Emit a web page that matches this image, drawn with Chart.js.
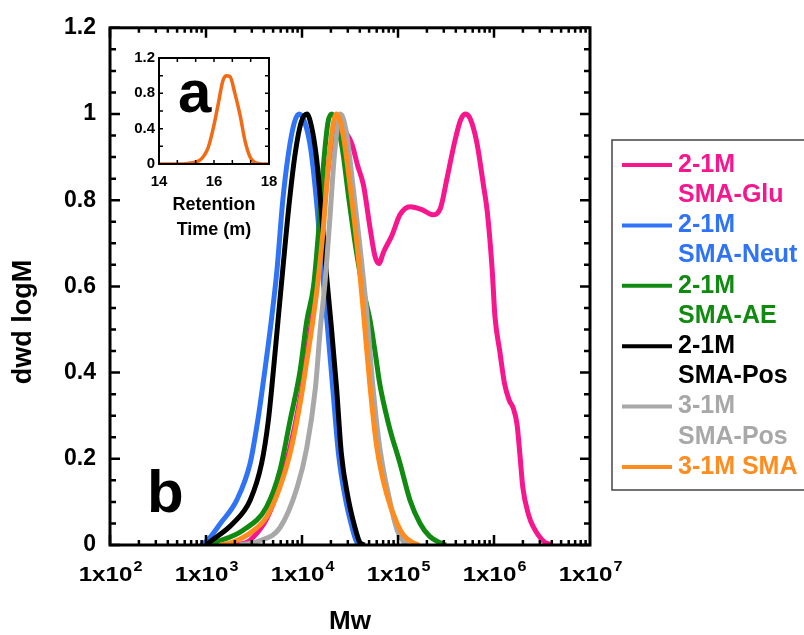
<!DOCTYPE html>
<html>
<head>
<meta charset="utf-8">
<script src="https://cdn.jsdelivr.net/npm/chart.js@4.4.1/dist/chart.umd.min.js"></script>
<style>
  html, body { margin: 0; padding: 0; background: #fff; }
  #wrap { position: relative; width: 804px; height: 635px; }
  #main { position: absolute; left: 0; top: 0; }
  #inset { position: absolute; left: 115px; top: 45px; }
</style>
</head>
<body>
<div id="wrap">
  <canvas id="main" width="804" height="635"></canvas>
  <canvas id="inset" width="175" height="205"></canvas>
</div>
<script>
// --- data (x in log10 Mw) ---
const gluLogM = [3.2, 3.41, 3.5, 3.63, 3.77, 3.875, 3.98, 4.05, 4.1, 4.14, 4.2, 4.26, 4.32, 4.38, 4.45, 4.52, 4.58, 4.64, 4.71, 4.76, 4.8, 4.85, 4.94, 5.02, 5.125, 5.26, 5.36, 5.44, 5.51, 5.59, 5.65, 5.7, 5.75, 5.82, 5.89, 5.93, 5.98, 6.01, 6.06, 6.11, 6.16, 6.2, 6.24, 6.27, 6.3, 6.36, 6.41, 6.51, 6.6];
const gluVal  = [0, 0.005, 0.02, 0.06, 0.14, 0.225, 0.34, 0.44, 0.52, 0.58, 0.7, 0.85, 0.95, 0.98, 0.96, 0.93, 0.88, 0.835, 0.734, 0.67, 0.653, 0.68, 0.72, 0.766, 0.785, 0.777, 0.766, 0.78, 0.85, 0.935, 0.985, 1.0, 0.99, 0.935, 0.835, 0.773, 0.642, 0.53, 0.45, 0.374, 0.335, 0.318, 0.28, 0.21, 0.134, 0.07, 0.042, 0.01, 0];

const neutLogM = [2.95, 3.02, 3.15, 3.32, 3.46, 3.54, 3.61, 3.68, 3.74, 3.8, 3.86, 3.92, 3.97, 4.03, 4.09, 4.15, 4.21, 4.26, 4.32, 4.38, 4.45, 4.52, 4.57, 4.62];
const neutVal  = [0, 0.012, 0.05, 0.104, 0.19, 0.29, 0.4, 0.52, 0.64, 0.8, 0.91, 0.98, 1.0, 0.98, 0.92, 0.8, 0.64, 0.52, 0.365, 0.212, 0.11, 0.042, 0.007, 0];

const aeLogM = [3.0, 3.11, 3.39, 3.63, 3.77, 3.875, 3.98, 4.05, 4.12, 4.17, 4.22, 4.27, 4.31, 4.36, 4.42, 4.49, 4.56, 4.63, 4.71, 4.76, 4.81, 4.87, 4.92, 5.02, 5.125, 5.23, 5.33, 5.44, 5.5];
const aeVal  = [0, 0.007, 0.035, 0.088, 0.173, 0.288, 0.404, 0.52, 0.6, 0.72, 0.872, 0.98, 1.0, 0.98, 0.92, 0.8, 0.69, 0.6, 0.52, 0.45, 0.374, 0.31, 0.265, 0.19, 0.104, 0.05, 0.02, 0.005, 0];

const posLogM = [3.0, 3.07, 3.28, 3.46, 3.58, 3.65, 3.7, 3.75, 3.8, 3.87, 3.93, 3.99, 4.05, 4.1, 4.15, 4.2, 4.25, 4.3, 4.36, 4.41, 4.48, 4.55, 4.6, 4.65];
const posVal  = [0, 0.012, 0.05, 0.104, 0.19, 0.29, 0.4, 0.52, 0.64, 0.8, 0.91, 0.98, 1.0, 0.97, 0.9, 0.78, 0.64, 0.52, 0.365, 0.212, 0.11, 0.042, 0.007, 0];

const pos3LogM = [3.35, 3.56, 3.77, 3.95, 4.05, 4.14, 4.19, 4.24, 4.29, 4.34, 4.4, 4.46, 4.53, 4.6, 4.67, 4.74, 4.81, 4.92, 4.99, 5.05, 5.1];
const pos3Val  = [0, 0.01, 0.04, 0.134, 0.226, 0.365, 0.5, 0.61, 0.757, 0.91, 1.0, 0.96, 0.835, 0.7, 0.55, 0.365, 0.226, 0.097, 0.035, 0.01, 0];

const smaLogM = [3.15, 3.28, 3.46, 3.63, 3.77, 3.875, 3.98, 4.05, 4.1, 4.16, 4.22, 4.27, 4.32, 4.36, 4.43, 4.5, 4.57, 4.64, 4.71, 4.78, 4.88, 4.99, 5.06, 5.16, 5.22];
const smaVal  = [0, 0.007, 0.028, 0.065, 0.134, 0.212, 0.328, 0.427, 0.5, 0.6, 0.73, 0.87, 0.97, 1.0, 0.95, 0.835, 0.704, 0.54, 0.365, 0.226, 0.12, 0.05, 0.022, 0.005, 0];

// inset: retention time (min) vs normalised signal
const retTime = [14.0, 14.7, 15.1, 15.3, 15.49, 15.65, 15.79, 15.97, 16.16, 16.32, 16.44, 16.58, 16.76, 16.95, 17.13, 17.31, 17.45, 17.55, 17.75, 18.0];
const retVal  = [0, 0, 0.01, 0.02, 0.043, 0.1, 0.187, 0.4, 0.69, 0.94, 1.0, 0.99, 0.8, 0.55, 0.26, 0.08, 0.025, 0.01, 0, 0];

const seriesLabels = [['2-1M', 'SMA-Glu'], ['2-1M', 'SMA-Neut'], ['2-1M', 'SMA-AE'], ['2-1M', 'SMA-Pos'], ['3-1M', 'SMA-Pos'], ['3-1M SMA']];
const seriesColors = ['#F7168D', '#2F74F6', '#108A10', '#000000', '#A8A8A8', '#FF8C1F'];

const xTicks = [1e2, 1e3, 1e4, 1e5, 1e6, 1e7];
const xTickExp = ['2', '3', '4', '5', '6', '7'];
const yTicks = [0, 0.2, 0.4, 0.6, 0.8, 1.0, 1.2];
const yTickLabels = ['0', '0.2', '0.4', '0.6', '0.8', '1', '1.2'];

const insetXTicks = [14, 16, 18];
const insetYTicks = [0, 0.4, 0.8, 1.2];
const insetYLabels = ['0', '0.4', '0.8', '1.2'];

const FONT = '"Liberation Sans", Arial, Helvetica, sans-serif';

function pts(lx, ly) {
  return lx.map((v, i) => ({ x: Math.pow(10, v), y: ly[i] }));
}

const seriesData = [
  pts(gluLogM, gluVal), pts(neutLogM, neutVal), pts(aeLogM, aeVal),
  pts(posLogM, posVal), pts(pos3LogM, pos3Val), pts(smaLogM, smaVal)
];

const datasets = seriesData.map((d, i) => ({
  label: seriesLabels[i].join(' '),
  data: d,
  borderColor: seriesColors[i],
  borderWidth: 5,
  pointRadius: 0,
  fill: false,
  cubicInterpolationMode: 'monotone',
  order: seriesData.length - i
}));

// frame, inward ticks, labels and legend
const mainDecor = {
  id: 'mainDecor',
  afterDatasetsDraw(chart) {
    const { ctx, chartArea: a, scales: { x, y } } = chart;
    ctx.save();
    ctx.strokeStyle = '#000';
    ctx.lineWidth = 2.5;
    ctx.beginPath();
    for (let n = 2; n <= 6; n++) {
      for (let k = 1; k <= 9; k++) {
        const px = x.getPixelForValue(k * Math.pow(10, n));
        const len = k === 1 ? 10 : 5;
        ctx.moveTo(px, a.bottom); ctx.lineTo(px, a.bottom - len);
        ctx.moveTo(px, a.top); ctx.lineTo(px, a.top + len);
      }
    }
    for (let i = 0; i <= 24; i++) {
      const py = y.getPixelForValue(i * 0.05);
      const len = i % 4 === 0 ? 10 : 6;
      ctx.moveTo(a.left, py); ctx.lineTo(a.left + len, py);
      ctx.moveTo(a.right, py); ctx.lineTo(a.right - len, py);
    }
    ctx.stroke();
    ctx.lineWidth = 3;
    ctx.strokeRect(a.left, a.top, a.right - a.left, a.bottom - a.top);

    // x tick labels "1x10^n" with a raised exponent
    ctx.fillStyle = '#000';
    ctx.textAlign = 'left';
    ctx.textBaseline = 'alphabetic';
    const sx = 1.15;
    xTicks.forEach((v, i) => {
      const px = x.getPixelForValue(v);
      ctx.font = 'bold 21px ' + FONT;
      const wb = ctx.measureText('1x10').width;
      ctx.font = 'bold 14px ' + FONT;
      const we = ctx.measureText(xTickExp[i]).width;
      ctx.save();
      ctx.translate(px - (wb + we) * sx / 2, a.bottom + 36);
      ctx.scale(sx, 1);
      ctx.font = 'bold 21px ' + FONT;
      ctx.fillText('1x10', 0, 0);
      ctx.font = 'bold 14px ' + FONT;
      ctx.fillText(xTickExp[i], wb + 1, -10);
      ctx.restore();
    });

    // panel letter
    ctx.font = 'bold 60px ' + FONT;
    ctx.fillText('b', 147, 512);

    // y axis title
    ctx.save();
    ctx.translate(24, 322);
    ctx.rotate(-Math.PI / 2);
    ctx.font = 'bold 27px ' + FONT;
    ctx.textAlign = 'center';
    ctx.textBaseline = 'middle';
    ctx.fillText('dwd logM', 0, 0);
    ctx.restore();

    // legend
    ctx.lineWidth = 1.5;
    ctx.strokeStyle = '#444';
    ctx.strokeRect(612, 140, 200, 350);
    ctx.font = 'bold 25px ' + FONT;
    ctx.textBaseline = 'middle';
    let row = 0;
    seriesLabels.forEach((lines, i) => {
      const yy = 165 + row * 30.2;
      ctx.strokeStyle = seriesColors[i];
      ctx.lineWidth = 4;
      ctx.beginPath();
      ctx.moveTo(622, yy); ctx.lineTo(672, yy);
      ctx.stroke();
      ctx.fillStyle = seriesColors[i];
      lines.forEach((t, j) => ctx.fillText(t, 678, yy + j * 30.2));
      row += lines.length;
    });
    ctx.restore();
  }
};

new Chart(document.getElementById('main'), {
  type: 'line',
  data: { datasets },
  options: {
    responsive: false,
    animation: false,
    layout: { padding: { left: 0, top: 25, right: 214, bottom: 0 } },
    plugins: { legend: { display: false }, tooltip: { enabled: false } },
    scales: {
      x: {
        type: 'logarithmic',
        min: 1e2,
        max: 1e7,
        afterBuildTicks: s => { s.ticks = xTicks.map(v => ({ value: v })); },
        afterFit: s => { s.height = 90; },
        grid: { display: false, drawTicks: false },
        border: { display: false },
        ticks: { display: false },
        title: {
          display: true,
          text: 'Mw',
          color: '#000',
          font: { family: FONT, size: 26, weight: 'bold' },
          padding: { top: 0, bottom: -2 }
        }
      },
      y: {
        min: 0,
        max: 1.2,
        afterBuildTicks: s => { s.ticks = yTicks.map(v => ({ value: v })); },
        afterFit: s => { s.width = 110; },
        grid: { display: false, drawTicks: false },
        border: { display: false },
        ticks: {
          padding: 14,
          color: '#000',
          font: { family: FONT, size: 23, weight: 'bold' },
          callback: (v, i) => yTickLabels[i]
        }
      }
    }
  },
  plugins: [mainDecor]
});

// inset (a)
const insetDecor = {
  id: 'insetDecor',
  beforeDatasetsDraw(chart) {
    const { ctx, chartArea: a } = chart;
    ctx.save();
    ctx.fillStyle = '#fff';
    ctx.fillRect(a.left, a.top, a.right - a.left, a.bottom - a.top);
    ctx.fillStyle = '#000';
    ctx.font = 'bold 60px ' + FONT;
    ctx.textBaseline = 'alphabetic';
    ctx.fillText('a', 63, 67);
    ctx.restore();
  },
  afterDatasetsDraw(chart) {
    const { ctx, chartArea: a, scales: { x, y } } = chart;
    ctx.save();
    ctx.strokeStyle = '#000';
    ctx.lineWidth = 1.5;
    ctx.beginPath();
    for (let k = 1; k <= 5; k++) {
      const px = x.getPixelForValue(14 + k * 2 / 3);
      ctx.moveTo(px, a.bottom); ctx.lineTo(px, a.bottom - 4);
      ctx.moveTo(px, a.top); ctx.lineTo(px, a.top + 4);
    }
    for (let i = 1; i <= 5; i++) {
      const py = y.getPixelForValue(i * 0.2);
      ctx.moveTo(a.left, py); ctx.lineTo(a.left + 4, py);
      ctx.moveTo(a.right, py); ctx.lineTo(a.right - 4, py);
    }
    ctx.stroke();
    ctx.lineWidth = 2;
    ctx.strokeRect(a.left, a.top, a.right - a.left, a.bottom - a.top);
    ctx.restore();
  }
};

new Chart(document.getElementById('inset'), {
  type: 'line',
  data: {
    datasets: [{
      data: retTime.map((t, i) => ({ x: t, y: retVal[i] })),
      borderColor: '#F26A14',
      borderWidth: 3.5,
      pointRadius: 0,
      fill: false,
      cubicInterpolationMode: 'monotone'
    }]
  },
  options: {
    responsive: false,
    animation: false,
    layout: { padding: { left: 0, top: 8, right: 21, bottom: 0 } },
    plugins: { legend: { display: false }, tooltip: { enabled: false } },
    scales: {
      x: {
        type: 'linear',
        min: 14,
        max: 18,
        afterBuildTicks: s => { s.ticks = insetXTicks.map(v => ({ value: v })); },
        afterFit: s => { s.height = 86; },
        grid: { display: false, drawTicks: false },
        border: { display: false },
        ticks: {
          padding: 9,
          color: '#000',
          maxRotation: 0,
          autoSkip: false,
          font: { family: FONT, size: 15, weight: 'bold' },
          callback: v => String(v)
        },
        title: {
          display: true,
          text: ['Retention', 'Time (m)'],
          color: '#000',
          font: { family: FONT, size: 18, weight: 'bold', lineHeight: 1.4 },
          padding: { top: 0, bottom: 7 }
        }
      },
      y: {
        min: 0,
        max: 1.2,
        afterBuildTicks: s => { s.ticks = insetYTicks.map(v => ({ value: v })); },
        afterFit: s => { s.width = 44; },
        grid: { display: false, drawTicks: false },
        border: { display: false },
        ticks: {
          padding: 4,
          color: '#000',
          font: { family: FONT, size: 15, weight: 'bold' },
          callback: (v, i) => insetYLabels[i]
        }
      }
    }
  },
  plugins: [insetDecor]
});
</script>
</body>
</html>
